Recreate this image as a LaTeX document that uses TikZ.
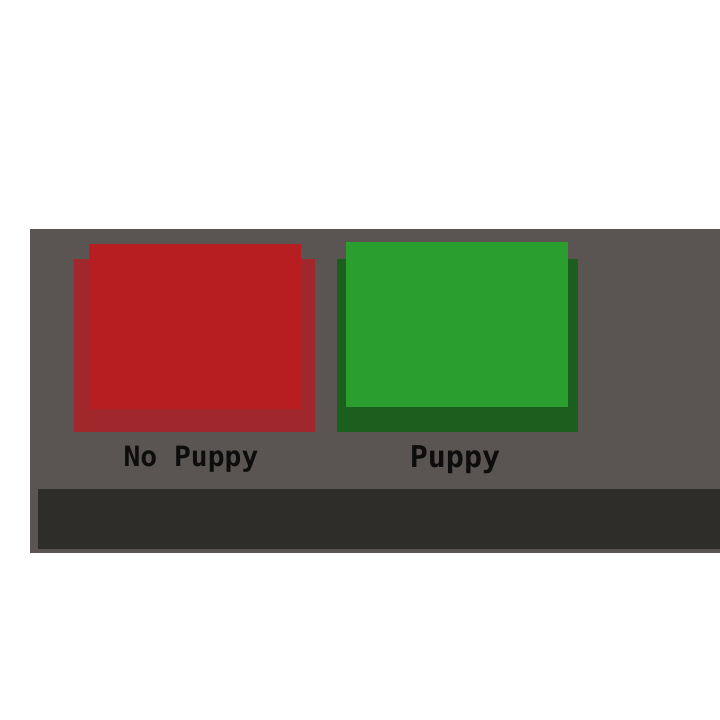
\documentclass[tikz,border=0pt]{standalone}
\usepackage{fontspec}
\setmonofont{DejaVu Sans Mono}
\usepackage{tikz}

\definecolor{panelgray}{HTML}{5A5552}
\definecolor{bardark}{HTML}{2F2D2A}
\definecolor{redtop}{HTML}{B71E22}
\definecolor{redshade}{HTML}{A0282C}
\definecolor{greentop}{HTML}{2A9F30}
\definecolor{greenshade}{HTML}{1B5E1E}
\definecolor{labelblack}{HTML}{0D0D0D}

\tikzset{
  buttonlabel/.style={anchor=base, text=labelblack, font=\ttfamily\bfseries\fontsize{#1}{#1}\selectfont}
}

\begin{document}
\begin{tikzpicture}[x=1pt,y=-1pt]
        \useasboundingbox (0,0) rectangle (720,720);
        % panel and bottom bar
        \fill[panelgray] (30,229) rectangle (720,553);
        \fill[bardark] (38,489) rectangle (720,549);
        % red button
        \fill[redshade] (74,259) rectangle (315,432);
        \fill[redtop] (89,244) rectangle (301,409);
        % green button
        \fill[greenshade] (337,259) rectangle (578,432);
        \fill[greentop] (346,242) rectangle (568,407);
        % labels
        \node[buttonlabel=28] (nopuppy) at (191,466) {No Puppy};
        \node[buttonlabel=30] (puppy) at (455,467) {Puppy};
    \end{tikzpicture}
\end{document}
